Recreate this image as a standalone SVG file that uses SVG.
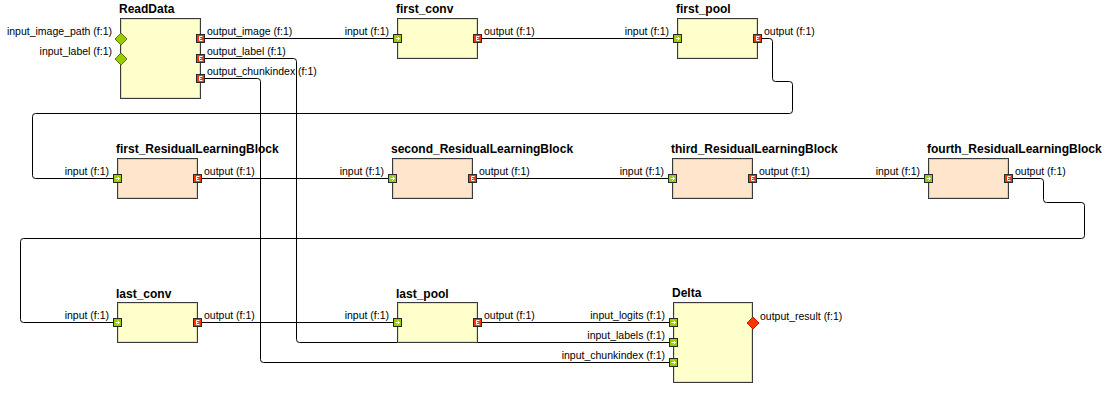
<svg xmlns="http://www.w3.org/2000/svg" width="1118" height="404" viewBox="0 0 1118 404">
<style>
.bg{fill:#ffffff}
.box{stroke:#3a3a3a;stroke-width:1}
.inner{fill:none;stroke:#000;stroke-opacity:0.12;stroke-width:1}
.y{fill:#ffffcc}
.p{fill:#ffe5cb}
.title{font-family:"Liberation Sans",Arial,sans-serif;font-size:12px;font-weight:bold;fill:#000}
.lbl{font-family:"Liberation Sans",Arial,sans-serif;font-size:10.5px;fill:#000}
.end{text-anchor:end}
.wire{fill:none;stroke:#000;stroke-width:1}
</style>
<defs>
<g id="pin-in">
<rect x="-4" y="-4" width="8" height="8" fill="#99cc00" stroke="#2a2a2a"/>
<path d="M-2 0 H2 M0 -2 L2 0 L0 2" fill="none" stroke="#ffffff"/>
</g>
<g id="pin-out">
<rect x="-4" y="-4" width="8" height="8" fill="#ff3300" stroke="#2a2a2a"/>
<path d="M2 -2 H-1 V2 H2 M-1 0 H1" fill="none" stroke="#ffffff"/>
</g>
<polygon id="dia-in" points="0,-6 6,0 0,6 -6,0" fill="#99cc00" stroke="#5a7a00"/>
<polygon id="dia-out" points="0,-6 6,0 0,6 -6,0" fill="#ff3300" stroke="#c02000"/>
</defs>
<rect class="bg" x="0" y="0" width="1118" height="404"/>

<g id="connectors">
<path class="wire" d="M200 38.5 H397"/>
<path class="wire" d="M477 38.5 H677"/>
<path class="wire" d="M757 38.5 H769.5 Q772.5 38.5 772.5 41.5 V78.5 Q772.5 81.5 775.5 81.5 H789.5 Q792.5 81.5 792.5 84.5 V110.5 Q792.5 113.5 789.5 113.5 H35.5 Q32.5 113.5 32.5 116.5 V175.5 Q32.5 178.5 35.5 178.5 H117"/>
<path class="wire" d="M197 178.5 H392"/>
<path class="wire" d="M472 178.5 H672"/>
<path class="wire" d="M752 178.5 H928"/>
<path class="wire" d="M1008 178.5 H1040.5 Q1043.5 178.5 1043.5 181.5 V199.5 Q1043.5 202.5 1046.5 202.5 H1081.5 Q1084.5 202.5 1084.5 205.5 V235.5 Q1084.5 238.5 1081.5 238.5 H23.5 Q20.5 238.5 20.5 241.5 V319.5 Q20.5 322.5 23.5 322.5 H117"/>
<path class="wire" d="M197 322.5 H397"/>
<path class="wire" d="M477 322.5 H673"/>
<path class="wire" d="M200 58.5 H293.5 Q296.5 58.5 296.5 61.5 V339.5 Q296.5 342.5 299.5 342.5 H673"/>
<path class="wire" d="M200 78.5 H257.5 Q260.5 78.5 260.5 81.5 V359.5 Q260.5 362.5 263.5 362.5 H673"/>
</g>

<g id="ReadData">
<rect class="box y" x="120.5" y="18.5" width="80" height="80"/>
<rect class="inner" x="121.5" y="19.5" width="78" height="78"/>
<text class="title" x="119" y="13">ReadData</text>
<use href="#dia-in" x="121" y="39"/>
<use href="#dia-in" x="121" y="59"/>
<use href="#pin-out" x="200.5" y="38.5"/>
<use href="#pin-out" x="200.5" y="58.5"/>
<use href="#pin-out" x="200.5" y="78.5"/>
<text class="lbl end" x="112" y="35">input_image_path (f:1)</text>
<text class="lbl end" x="112" y="55">input_label (f:1)</text>
<text class="lbl" x="207" y="34.5">output_image (f:1)</text>
<text class="lbl" x="207" y="54.5">output_label (f:1)</text>
<text class="lbl" x="207" y="74.5">output_chunkindex (f:1)</text>
</g>

<g id="first_conv">
<rect class="box y" x="397.5" y="18.5" width="80" height="40"/>
<rect class="inner" x="398.5" y="19.5" width="78" height="38"/>
<text class="title" x="396" y="13">first_conv</text>
<use href="#pin-in" x="397.5" y="38.5"/>
<use href="#pin-out" x="477.5" y="38.5"/>
<text class="lbl end" x="389" y="34.5">input (f:1)</text>
<text class="lbl" x="484" y="34.5">output (f:1)</text>
</g>

<g id="first_pool">
<rect class="box y" x="677.5" y="18.5" width="80" height="40"/>
<rect class="inner" x="678.5" y="19.5" width="78" height="38"/>
<text class="title" x="676" y="13">first_pool</text>
<use href="#pin-in" x="677.5" y="38.5"/>
<use href="#pin-out" x="757.5" y="38.5"/>
<text class="lbl end" x="669" y="34.5">input (f:1)</text>
<text class="lbl" x="764" y="34.5">output (f:1)</text>
</g>

<g id="first_ResidualLearningBlock">
<rect class="box p" x="117.5" y="158.5" width="80" height="40"/>
<rect class="inner" x="118.5" y="159.5" width="78" height="38"/>
<text class="title" x="116" y="153">first_ResidualLearningBlock</text>
<use href="#pin-in" x="117.5" y="178.5"/>
<use href="#pin-out" x="197.5" y="178.5"/>
<text class="lbl end" x="109" y="174.5">input (f:1)</text>
<text class="lbl" x="204" y="174.5">output (f:1)</text>
</g>

<g id="second_ResidualLearningBlock">
<rect class="box p" x="392.5" y="158.5" width="80" height="40"/>
<rect class="inner" x="393.5" y="159.5" width="78" height="38"/>
<text class="title" x="391" y="153">second_ResidualLearningBlock</text>
<use href="#pin-in" x="392.5" y="178.5"/>
<use href="#pin-out" x="472.5" y="178.5"/>
<text class="lbl end" x="384" y="174.5">input (f:1)</text>
<text class="lbl" x="479" y="174.5">output (f:1)</text>
</g>

<g id="third_ResidualLearningBlock">
<rect class="box p" x="672.5" y="158.5" width="80" height="40"/>
<rect class="inner" x="673.5" y="159.5" width="78" height="38"/>
<text class="title" x="671" y="153">third_ResidualLearningBlock</text>
<use href="#pin-in" x="672.5" y="178.5"/>
<use href="#pin-out" x="752.5" y="178.5"/>
<text class="lbl end" x="664" y="174.5">input (f:1)</text>
<text class="lbl" x="759" y="174.5">output (f:1)</text>
</g>

<g id="fourth_ResidualLearningBlock">
<rect class="box p" x="928.5" y="158.5" width="80" height="40"/>
<rect class="inner" x="929.5" y="159.5" width="78" height="38"/>
<text class="title" x="927" y="153">fourth_ResidualLearningBlock</text>
<use href="#pin-in" x="928.5" y="178.5"/>
<use href="#pin-out" x="1008.5" y="178.5"/>
<text class="lbl end" x="920" y="174.5">input (f:1)</text>
<text class="lbl" x="1015" y="174.5">output (f:1)</text>
</g>

<g id="last_conv">
<rect class="box y" x="117.5" y="302.5" width="80" height="40"/>
<rect class="inner" x="118.5" y="303.5" width="78" height="38"/>
<text class="title" x="116" y="298">last_conv</text>
<use href="#pin-in" x="117.5" y="322.5"/>
<use href="#pin-out" x="197.5" y="322.5"/>
<text class="lbl end" x="109" y="318.5">input (f:1)</text>
<text class="lbl" x="204" y="318.5">output (f:1)</text>
</g>

<g id="last_pool">
<rect class="box y" x="397.5" y="302.5" width="80" height="40"/>
<rect class="inner" x="398.5" y="303.5" width="78" height="38"/>
<text class="title" x="396" y="298">last_pool</text>
<use href="#pin-in" x="397.5" y="322.5"/>
<use href="#pin-out" x="477.5" y="322.5"/>
<text class="lbl end" x="389" y="318.5">input (f:1)</text>
<text class="lbl" x="484" y="318.5">output (f:1)</text>
</g>

<g id="Delta">
<rect class="box y" x="673.5" y="302.5" width="79" height="80"/>
<rect class="inner" x="674.5" y="303.5" width="77" height="78"/>
<text class="title" x="672" y="297">Delta</text>
<use href="#pin-in" x="673.5" y="322.5"/>
<use href="#pin-in" x="673.5" y="342.5"/>
<use href="#pin-in" x="673.5" y="362.5"/>
<use href="#dia-out" x="753" y="323"/>
<text class="lbl end" x="665" y="318.5">input_logits (f:1)</text>
<text class="lbl end" x="665" y="338.5">input_labels (f:1)</text>
<text class="lbl end" x="665" y="358.5">input_chunkindex (f:1)</text>
<text class="lbl" x="760" y="319.5">output_result (f:1)</text>
</g>
</svg>
